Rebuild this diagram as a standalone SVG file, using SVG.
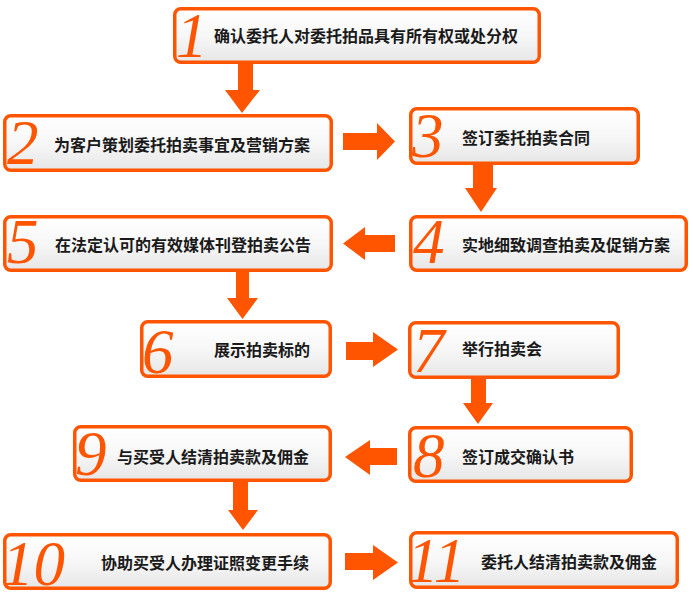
<svg xmlns="http://www.w3.org/2000/svg" width="693" height="600" viewBox="0 0 693 600">
<defs>
<linearGradient id="g" x1="0" y1="0" x2="0" y2="1">
<stop offset="0" stop-color="#ffffff"/>
<stop offset="0.5" stop-color="#f7f7f7"/>
<stop offset="1" stop-color="#e6e6e6"/>
</linearGradient>
<style>
.box{fill:url(#g);stroke:#ff5500;stroke-width:3.5}
.num{font-family:"Liberation Serif","Times New Roman",serif;font-style:italic;font-size:63px;fill:#ff5500}
.lbl{font-family:"Noto Sans CJK SC","Noto Sans",sans-serif;font-weight:bold;font-size:16px;fill:#1a1a1a}
.arr{fill:#ff5500}
</style>
</defs>
<rect width="693" height="600" fill="#ffffff"/>
<g id="connectors">
<polygon class="arr" points="238,64 253,64 253,90 260,90 242,113 225,90 238,90"/>
<polygon class="arr" points="343,133 377,133 377,123 395,141.5 377,160 377,150 343,150"/>
<polygon class="arr" points="473,165 493,165 493,188 497,188 481,212 465,188 473,188"/>
<polygon class="arr" points="395,235 365,235 365,227 343,243.5 365,260 365,252 395,252"/>
<polygon class="arr" points="236,272 249,272 249,298 258,298 242.5,319 227,298 236,298"/>
<polygon class="arr" points="346,342 373,342 373,332 398,349.5 373,367 373,360 346,360"/>
<polygon class="arr" points="471,379 486,379 486,403 493,403 478,424 463,403 471,403"/>
<polygon class="arr" points="397,448 370,448 370,440 345,457 370,475 370,465 397,465"/>
<polygon class="arr" points="233,482 248,482 248,510 258,510 243,530 228,510 233,510"/>
<polygon class="arr" points="345,553 373,553 373,545 398,562.5 373,580 373,570 345,570"/>
</g>
<g id="n1"><rect class="box" x="174.75" y="8.75" width="364.5" height="53.5" rx="6"/><text class="num" x="176" y="57" font-size="60">1</text><text class="lbl" x="214" y="42">确认委托人对委托拍品具有所有权或处分权</text></g>
<g id="n2"><rect class="box" x="4.75" y="115.75" width="326.5" height="54.5" rx="6"/><text class="num" x="7" y="164">2</text><text class="lbl" x="54" y="151">为客户策划委托拍卖事宜及营销方案</text></g>
<g id="n3"><rect class="box" x="410.75" y="108.75" width="227.5" height="54.5" rx="6"/><text class="num" x="412" y="157">3</text><text class="lbl" x="462" y="144">签订委托拍卖合同</text></g>
<g id="n4"><rect class="box" x="410.75" y="216.75" width="275.5" height="53.5" rx="6"/><text class="num" x="413" y="263">4</text><text class="lbl" x="462" y="251">实地细致调查拍卖及促销方案</text></g>
<g id="n5"><rect class="box" x="4.75" y="216.75" width="326.5" height="53.5" rx="6"/><text class="num" x="7" y="263">5</text><text class="lbl" x="55" y="251">在法定认可的有效媒体刊登拍卖公告</text></g>
<g id="n6"><rect class="box" x="141.75" y="321.75" width="188.5" height="54.5" rx="6"/><text class="num" x="142" y="373">6</text><text class="lbl" x="214" y="356">展示拍卖标的</text></g>
<g id="n7"><rect class="box" x="409.75" y="322.75" width="208.5" height="54.5" rx="6"/><text class="num" x="413" y="372">7</text><text class="lbl" x="462" y="355">举行拍卖会</text></g>
<g id="n8"><rect class="box" x="409.75" y="427.75" width="221.5" height="53.5" rx="6"/><text class="num" x="413" y="477">8</text><text class="lbl" x="462" y="463">签订成交确认书</text></g>
<g id="n9"><rect class="box" x="74.75" y="426.75" width="255.5" height="53.5" rx="6"/><text class="num" x="75" y="475">9</text><text class="lbl" x="117" y="463">与买受人结清拍卖款及佣金</text></g>
<g id="n10"><rect class="box" x="4.75" y="534.75" width="325.5" height="53.5" rx="6"/><text class="num" x="2" y="585">10</text><text class="lbl" x="101" y="569">协助买受人办理证照变更手续</text></g>
<g id="n11"><rect class="box" x="410.75" y="532.75" width="266.5" height="54.5" rx="6"/><text class="num" x="407" y="582">11</text><text class="lbl" x="481" y="568">委托人结清拍卖款及佣金</text></g>
</svg>
